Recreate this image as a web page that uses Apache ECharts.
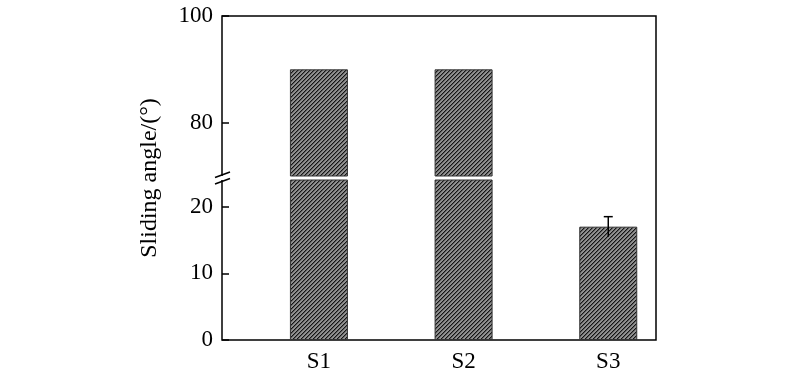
<!DOCTYPE html>
<html>
<head>
<meta charset="utf-8">
<script src="https://cdn.jsdelivr.net/npm/echarts@6/dist/echarts.min.js"></script>
<style>
html,body{margin:0;padding:0;background:#fff;}
#chart{width:800px;height:383px;}
</style>
</head>
<body>
<div id="chart"></div>
<script>
// ---- data ----
const categories = ['S1', 'S2', 'S3'];
const positions = [1, 2, 3];
const values = [90, 90, 17];
const errors = [0, 0, 1.5];
const lowerTicks = [0, 10, 20];
const upperTicks = [80, 100];
const yTitle = 'Sliding angle/(°)';

// ---- hatch pattern (pixel-exact diagonal "///") ----
function makeHatch() {
  const s = 4;
  const c = document.createElement('canvas');
  c.width = s; c.height = s;
  const ctx = c.getContext('2d');
  for (let y = 0; y < s; y++) {
    for (let x = 0; x < s; x++) {
      const k = (x + y) % s;
      ctx.fillStyle = k === 3 ? '#151515' : (k === 0 ? '#5c5c5c' : '#909090');
      ctx.fillRect(x, y, 1, 1);
    }
  }
  return c;
}
const hatch = { image: makeHatch(), repeat: 'repeat' };

const fontFamily = "'Liberation Serif', 'Times New Roman', Times, serif";
const font = { fontFamily: fontFamily, fontSize: 23, color: '#000' };
const titleFont = { fontFamily: fontFamily, fontSize: 24, color: '#000' };
const lineStyle = { color: '#000', width: 1.5 };
const xMin = 0.33, xMax = 3.33;

const barData = positions.map((p, i) => [p, values[i]]);
const upperMin = 70, upperMax = 100, lowerMax = 24;
const upperData = positions.map((p, i) => values[i] > upperMin ? [p, values[i]] : null).filter(d => d);
const errData = positions.map((p, i) => [p, values[i], errors[i]]).filter(d => d[2] > 0);

const chart = echarts.init(document.getElementById('chart'), null, { renderer: 'canvas' });
const option = {
  animation: false,
  backgroundColor: '#fff',
  textStyle: { fontFamily: fontFamily },
  grid: [
    { left: 222, right: 144, top: 16, height: 160 },   // upper
    { left: 222, right: 144, top: 180, bottom: 43 },   // lower
    { left: 222, right: 144, top: 16, bottom: 43, show: true, borderColor: '#000', borderWidth: 1.5, backgroundColor: 'transparent' }  // frame
  ],
  xAxis: [
    { gridIndex: 0, type: 'value', min: xMin, max: xMax, show: false },
    { gridIndex: 1, type: 'value', min: xMin, max: xMax,
      axisLine: { show: false }, axisTick: { show: false }, splitLine: { show: false },
      axisLabel: Object.assign({ customValues: positions, margin: 10,
        formatter: v => categories[positions.indexOf(v)] || '' }, font) },
    { gridIndex: 2, type: 'value', min: 0, max: 1, show: false }
  ],
  yAxis: [
    { gridIndex: 0, type: 'value', min: upperMin, max: upperMax,
      axisLine: { show: false },
      axisTick: { show: true, inside: true, length: 7, lineStyle, customValues: upperTicks },
      axisLabel: Object.assign({ customValues: upperTicks, margin: 9 }, font),
      splitLine: { show: false } },
    { gridIndex: 1, type: 'value', min: 0, max: lowerMax,
      axisLine: { show: false },
      axisTick: { show: true, inside: true, length: 7, lineStyle, customValues: lowerTicks },
      axisLabel: Object.assign({ customValues: lowerTicks, margin: 9 }, font),
      splitLine: { show: false } },
    { gridIndex: 2, type: 'value', min: 0, max: 1, position: 'left',
      axisLine: { show: false }, axisTick: { show: false }, axisLabel: { show: false }, splitLine: { show: false },
      name: yTitle, nameLocation: 'middle', nameGap: 60, nameRotate: 90,
      nameTextStyle: titleFont }
  ],
  series: [
    { type: 'bar', xAxisIndex: 0, yAxisIndex: 0, data: upperData, barWidth: 58, clip: true,
      itemStyle: { color: hatch, borderColor: '#333', borderWidth: 1 } },
    { type: 'bar', xAxisIndex: 1, yAxisIndex: 1, data: barData, barWidth: 58, clip: true,
      itemStyle: { color: hatch, borderColor: '#333', borderWidth: 1 } },
    { type: 'custom', xAxisIndex: 1, yAxisIndex: 1, data: errData, z: 10,
      renderItem: function (params, api) {
        const x = api.value(0), v = api.value(1), e = api.value(2);
        const top = api.coord([x, v + e]);
        const bot = api.coord([x, v - e]);
        const hw = 4.5;
        return { type: 'group', children: [
          { type: 'line', shape: { x1: top[0], y1: top[1], x2: bot[0], y2: bot[1] }, style: { stroke: '#000', lineWidth: 1.5 } },
          { type: 'line', shape: { x1: top[0] - hw, y1: top[1], x2: top[0] + hw, y2: top[1] }, style: { stroke: '#000', lineWidth: 1.5 } }
        ]};
      } }
  ],
  graphic: [
    { type: 'rect', shape: { x: 218, y: 176, width: 8, height: 4 }, style: { fill: '#fff' }, z: 100 },
    { type: 'line', shape: { x1: 215, y1: 177.5, x2: 230, y2: 172 }, style: { stroke: '#000', lineWidth: 1.5 }, z: 101 },
    { type: 'line', shape: { x1: 215, y1: 184, x2: 230, y2: 178.5 }, style: { stroke: '#000', lineWidth: 1.5 }, z: 101 }
  ]
};
chart.setOption(option);
</script>
</body>
</html>
